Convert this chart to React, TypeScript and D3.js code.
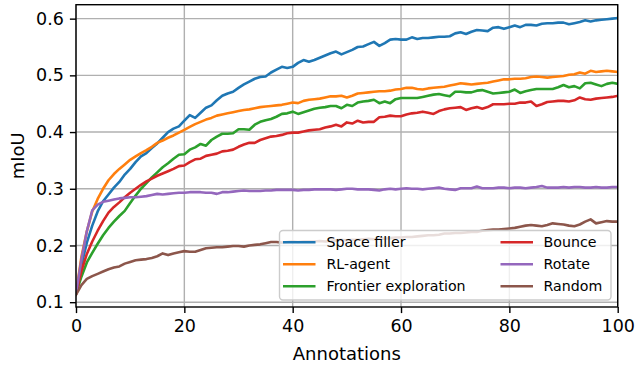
import React, { useEffect, useRef } from "react";
import * as d3 from "d3";

const annotations: number[] = Array.from({ length: 101 }, (_, i) => i);

const spaceFiller = [0.115,0.165,0.205,0.235,0.26,0.278,0.29,0.302,0.312,0.325,0.335,0.347,0.357,0.363,0.372,0.38,0.39,0.4,0.406,0.41,0.42,0.43,0.425,0.434,0.443,0.447,0.456,0.464,0.468,0.471,0.478,0.484,0.489,0.494,0.497,0.498,0.505,0.51,0.515,0.513,0.515,0.522,0.527,0.524,0.527,0.531,0.535,0.539,0.542,0.537,0.541,0.545,0.55,0.551,0.555,0.559,0.552,0.557,0.563,0.564,0.563,0.563,0.567,0.564,0.566,0.566,0.567,0.568,0.568,0.569,0.574,0.576,0.573,0.577,0.58,0.579,0.578,0.584,0.585,0.582,0.585,0.588,0.585,0.589,0.589,0.588,0.591,0.592,0.592,0.593,0.593,0.59,0.592,0.594,0.597,0.595,0.597,0.598,0.599,0.6,0.601];
const rlAgent = [0.115,0.18,0.225,0.26,0.282,0.3,0.315,0.326,0.335,0.343,0.351,0.357,0.363,0.368,0.374,0.381,0.385,0.39,0.394,0.399,0.404,0.409,0.414,0.418,0.422,0.425,0.429,0.431,0.433,0.435,0.437,0.439,0.44,0.442,0.444,0.445,0.446,0.447,0.448,0.45,0.452,0.451,0.455,0.457,0.458,0.459,0.461,0.463,0.463,0.464,0.461,0.464,0.468,0.469,0.47,0.471,0.472,0.472,0.473,0.475,0.476,0.478,0.478,0.476,0.475,0.477,0.478,0.479,0.48,0.482,0.484,0.486,0.485,0.484,0.485,0.486,0.487,0.489,0.491,0.493,0.493,0.494,0.494,0.495,0.497,0.498,0.497,0.496,0.497,0.498,0.499,0.501,0.502,0.505,0.503,0.508,0.506,0.507,0.508,0.507,0.506];
const frontier = [0.115,0.145,0.17,0.187,0.203,0.218,0.231,0.242,0.252,0.261,0.275,0.288,0.3,0.31,0.32,0.329,0.338,0.345,0.353,0.36,0.361,0.369,0.373,0.379,0.376,0.386,0.392,0.397,0.397,0.398,0.405,0.405,0.404,0.413,0.418,0.421,0.423,0.427,0.432,0.433,0.436,0.432,0.435,0.438,0.441,0.443,0.444,0.446,0.446,0.442,0.448,0.446,0.452,0.454,0.455,0.457,0.451,0.454,0.451,0.458,0.46,0.46,0.46,0.46,0.462,0.464,0.466,0.467,0.465,0.463,0.471,0.471,0.47,0.47,0.473,0.474,0.471,0.468,0.469,0.47,0.471,0.475,0.469,0.472,0.474,0.476,0.476,0.476,0.476,0.479,0.483,0.479,0.481,0.477,0.486,0.487,0.484,0.481,0.485,0.487,0.485];
const bounce = [0.115,0.155,0.185,0.207,0.226,0.243,0.258,0.268,0.276,0.285,0.293,0.3,0.307,0.313,0.318,0.323,0.327,0.331,0.335,0.34,0.341,0.347,0.352,0.353,0.358,0.36,0.362,0.366,0.367,0.369,0.374,0.378,0.381,0.381,0.386,0.389,0.392,0.393,0.395,0.398,0.399,0.399,0.401,0.403,0.404,0.405,0.408,0.41,0.413,0.41,0.417,0.415,0.42,0.417,0.418,0.418,0.426,0.427,0.429,0.428,0.428,0.431,0.433,0.434,0.436,0.434,0.432,0.437,0.44,0.442,0.443,0.444,0.439,0.442,0.444,0.441,0.444,0.449,0.449,0.449,0.45,0.45,0.452,0.452,0.454,0.446,0.449,0.453,0.454,0.455,0.455,0.454,0.456,0.461,0.458,0.457,0.459,0.46,0.461,0.462,0.464];
const rotate = [0.115,0.175,0.225,0.262,0.272,0.277,0.279,0.281,0.283,0.284,0.285,0.285,0.286,0.287,0.289,0.291,0.29,0.291,0.292,0.293,0.293,0.294,0.294,0.294,0.293,0.293,0.291,0.294,0.294,0.295,0.296,0.297,0.296,0.296,0.296,0.297,0.297,0.298,0.298,0.298,0.298,0.297,0.298,0.298,0.299,0.299,0.299,0.299,0.298,0.299,0.3,0.3,0.299,0.299,0.299,0.298,0.297,0.299,0.3,0.299,0.3,0.301,0.3,0.3,0.299,0.3,0.301,0.302,0.3,0.299,0.298,0.301,0.301,0.301,0.304,0.301,0.301,0.301,0.302,0.302,0.301,0.302,0.302,0.301,0.302,0.303,0.305,0.302,0.302,0.302,0.303,0.302,0.303,0.303,0.302,0.302,0.303,0.302,0.302,0.303,0.303];
const random = [0.113,0.13,0.141,0.146,0.15,0.154,0.158,0.161,0.163,0.168,0.171,0.174,0.175,0.176,0.178,0.181,0.186,0.183,0.186,0.188,0.19,0.189,0.189,0.192,0.195,0.196,0.197,0.197,0.198,0.199,0.199,0.198,0.2,0.201,0.202,0.204,0.206,0.206,0.205,0.206,0.207,0.206,0.207,0.207,0.207,0.208,0.207,0.208,0.209,0.21,0.209,0.21,0.21,0.211,0.212,0.211,0.212,0.212,0.213,0.214,0.214,0.215,0.215,0.216,0.217,0.218,0.218,0.219,0.221,0.221,0.222,0.222,0.223,0.224,0.224,0.226,0.227,0.228,0.228,0.229,0.23,0.231,0.233,0.235,0.236,0.235,0.234,0.236,0.239,0.238,0.237,0.235,0.234,0.237,0.242,0.246,0.239,0.241,0.243,0.242,0.242];

const seriesNames = ["Space filler", "RL-agent", "Frontier exploration", "Bounce", "Rotate", "Random"];
const seriesValues = [spaceFiller, rlAgent, frontier, bounce, rotate, random];
const seriesColors = ["#1f77b4", "#ff7f0e", "#2ca02c", "#d62728", "#9467bd", "#8c564b"];

const xTicks = [0, 20, 40, 60, 80, 100];
const yTicks = [0.1, 0.2, 0.3, 0.4, 0.5, 0.6];

const W = 636, H = 369;
const L = 76, R = 617.7, T = 4.7, B = 307;
const FONT = "DejaVu Sans";

export default function App() {
  const ref = useRef<SVGSVGElement>(null);
  useEffect(() => {
    const svg = d3.select(ref.current);
    svg.selectAll("*").remove();
    const x = d3.scaleLinear().domain([0, 100]).range([L, R]);
    const y = d3.scaleLinear().domain([0.0915, 0.6246]).range([B, T]);

    svg.append("rect").attr("x", 0).attr("y", 0).attr("width", W).attr("height", H).attr("fill", "#fff");

    const grid = svg.append("g").attr("stroke", "#b0b0b0").attr("stroke-width", 1.4);
    xTicks.forEach(t => grid.append("line").attr("x1", x(t)).attr("x2", x(t)).attr("y1", T).attr("y2", B));
    yTicks.forEach(t => grid.append("line").attr("x1", L).attr("x2", R).attr("y1", y(t)).attr("y2", y(t)));

    const clip = svg.append("clipPath").attr("id", "plotclip");
    clip.append("rect").attr("x", L).attr("y", T).attr("width", R - L).attr("height", B - T);

    const line = d3.line<number>().x((_, i) => x(annotations[i])).y(d => y(d));
    const lines = svg.append("g").attr("clip-path", "url(#plotclip)");
    seriesValues.forEach((vals, k) => {
      lines.append("path").attr("d", line(vals) as string).attr("fill", "none")
        .attr("stroke", seriesColors[k]).attr("stroke-width", 2.6)
        .attr("stroke-linejoin", "round").attr("stroke-linecap", "square");
    });

    const ax = svg.append("g").attr("transform", `translate(0,${B})`)
      .call(d3.axisBottom(x).tickValues(xTicks).tickSize(6.1).tickPadding(6).tickFormat(d3.format("d")) as any);
    const ay = svg.append("g").attr("transform", `translate(${L},0)`)
      .call(d3.axisLeft(y).tickValues(yTicks).tickSize(6.1).tickPadding(6).tickFormat(d3.format(".1f")) as any);
    [ax, ay].forEach(g => {
      g.select(".domain").remove();
      g.selectAll("line").attr("stroke", "#000").attr("stroke-width", 1.4);
      g.selectAll("text").attr("font-family", FONT).attr("font-size", 17.5).attr("fill", "#000");
    });

    svg.append("rect").attr("x", L).attr("y", T).attr("width", R - L).attr("height", B - T)
      .attr("fill", "none").attr("stroke", "#000").attr("stroke-width", 1.4);

    svg.append("text").attr("x", (L + R) / 2).attr("y", 360).attr("text-anchor", "middle")
      .attr("font-family", FONT).attr("font-size", 18).text("Annotations");
    svg.append("text").attr("transform", `translate(23.5,${(T + B) / 2}) rotate(-90)`).attr("text-anchor", "middle")
      .attr("font-family", FONT).attr("font-size", 18).text("mIoU");

    const lg = svg.append("g");
    lg.append("rect").attr("x", 279.5).attr("y", 230.5).attr("width", 331.5).attr("height", 69.5)
      .attr("rx", 3.5).attr("fill", "#fff").attr("fill-opacity", 0.8).attr("stroke", "#cccccc").attr("stroke-width", 1.4);
    const rowsY = [242.3, 264.3, 286.2];
    const cols = [{ lx: 283, tx: 326.5 }, { lx: 500.5, tx: 543.5 }];
    seriesNames.forEach((name, k) => {
      const c = cols[Math.floor(k / 3)];
      const ry = rowsY[k % 3];
      lg.append("line").attr("x1", c.lx).attr("x2", c.lx + 32.5).attr("y1", ry).attr("y2", ry)
        .attr("stroke", seriesColors[k]).attr("stroke-width", 2.6);
      lg.append("text").attr("x", c.tx).attr("y", ry + 5).attr("font-family", FONT).attr("font-size", 14.2)
        .attr("fill", "#000").text(name);
    });
  }, []);
  return <svg ref={ref} width={W} height={H} style={{ position: "absolute", left: 0, top: 0 }} />;
}
